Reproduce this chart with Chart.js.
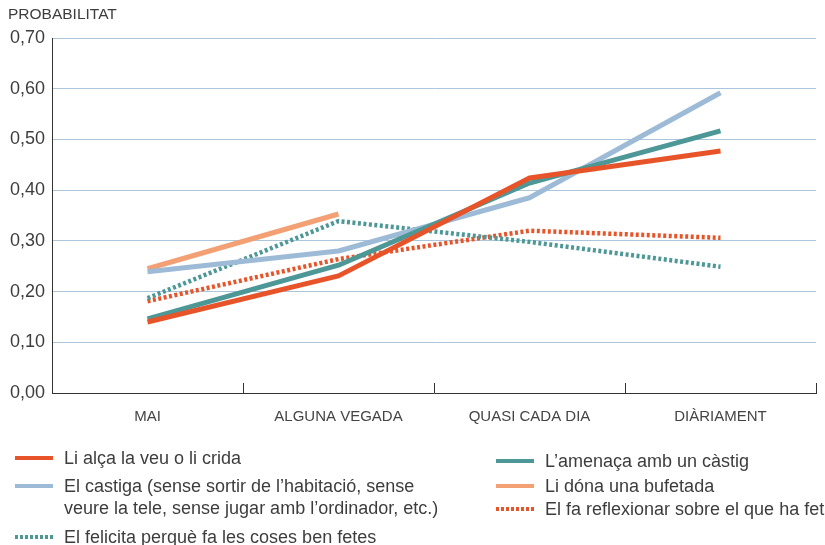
<!DOCTYPE html>
<html>
<head>
<meta charset="utf-8">
<script src="https://cdn.jsdelivr.net/npm/chart.js@4.4.1/dist/chart.umd.min.js"></script>
<style>
  html, body { margin: 0; padding: 0; background: #fff; }
  #wrap { width: 825px; height: 545px; position: relative; }
</style>
</head>
<body>
<div id="wrap"><canvas id="chart"></canvas></div>
<script>
// Categories and y tick labels
const categories = ['MAI', 'ALGUNA VEGADA', 'QUASI CADA DIA', 'DIÀRIAMENT'];
const yTickLabels = ['0,00', '0,10', '0,20', '0,30', '0,40', '0,50', '0,60', '0,70'];

// Series values
const alcaVeu = [0.140, 0.231, 0.424, 0.477];
const amenaca = [0.146, 0.252, 0.414, 0.517];
const castiga = [0.239, 0.280, 0.385, 0.592];
const bufetada = [0.245, 0.353, null, null];
const felicita = [0.187, 0.339, 0.298, 0.249];
const reflexionar = [0.181, 0.264, 0.320, 0.306];

const seriesLabels = [
  'Li alça la veu o li crida',
  'L\u2019amenaça amb un càstig',
  'El castiga (sense sortir de l\u2019habitació, sense\nveure la tele, sense jugar amb l\u2019ordinador, etc.)',
  'Li dóna una bufetada',
  'El felicita perquè fa les coses ben fetes',
  'El fa reflexionar sobre el que ha fet'
];

const RED = '#e8542a';
const TEAL = '#4e9797';
const LIGHTBLUE = '#9dbbd6';
const ORANGE = '#f3a074';
const FONT = '"Liberation Sans", Arial, sans-serif';
const TEXT = '#3d3d3d';

function makeSet(label, data, color, dotted) {
  return {
    label: label,
    data: data,
    borderColor: color,
    backgroundColor: color,
    borderWidth: dotted ? 4.5 : 5,
    borderDash: dotted ? [3, 2.5] : [],
    borderCapStyle: 'butt',
    borderJoinStyle: 'round',
    pointRadius: 0,
    tension: 0,
    fill: false,
    spanGaps: false
  };
}

// Ticks pointing up into the plot at the category boundaries
const boundaryTicks = {
  id: 'boundaryTicks',
  afterDraw(chart) {
    const xs = chart.scales.x;
    const ctx = chart.ctx;
    const bottom = chart.chartArea.bottom;
    const step = xs.getPixelForValue(1) - xs.getPixelForValue(0);
    ctx.save();
    ctx.strokeStyle = '#333';
    ctx.lineWidth = 1;
    for (let i = 0; i < categories.length; i++) {
      const x = Math.round(xs.getPixelForValue(i) + step / 2) + 0.5;
      ctx.beginPath();
      ctx.moveTo(x, bottom - 10);
      ctx.lineTo(x, bottom);
      ctx.stroke();
    }
    // axis title on top
    ctx.fillStyle = TEXT;
    ctx.font = '15.5px ' + FONT;
    ctx.textBaseline = 'middle';
    ctx.textAlign = 'left';
    ctx.fillText('PROBABILITAT', 8, 15);
    ctx.restore();
  }
};

// Two column legend below the axis
const customLegend = {
  id: 'customLegend',
  afterDraw(chart) {
    const ctx = chart.ctx;
    const cols = [{ x: 15, rows: [0, 2, 4] }, { x: 496, rows: [1, 3, 5] }];
    const rowY = [[458, 486, 537], [461, 486, 509]];
    ctx.save();
    ctx.font = '18px ' + FONT;
    ctx.textBaseline = 'middle';
    ctx.textAlign = 'left';
    cols.forEach((col, c) => {
      col.rows.forEach((di, r) => {
        const ds = chart.data.datasets[di];
        const y = rowY[c][r];
        ctx.strokeStyle = ds.borderColor;
        ctx.lineWidth = 4;
        ctx.setLineDash(ds.borderDash.length ? [3, 2] : []);
        ctx.beginPath();
        ctx.moveTo(col.x, y);
        ctx.lineTo(col.x + 38, y);
        ctx.stroke();
        ctx.setLineDash([]);
        ctx.fillStyle = TEXT;
        ds.label.split('\n').forEach((line, k) => {
          ctx.fillText(line, col.x + 49, y + 1 + k * 22);
        });
      });
    });
    ctx.restore();
  }
};

const config = {
  type: 'line',
  data: {
    labels: categories,
    datasets: [
      makeSet(seriesLabels[0], alcaVeu, RED, false),
      makeSet(seriesLabels[1], amenaca, TEAL, false),
      makeSet(seriesLabels[2], castiga, LIGHTBLUE, false),
      makeSet(seriesLabels[3], bufetada, ORANGE, false),
      makeSet(seriesLabels[4], felicita, TEAL, true),
      makeSet(seriesLabels[5], reflexionar, RED, true)
    ]
  },
  options: {
    responsive: false,
    animation: false,
    devicePixelRatio: 1,
    layout: { padding: { top: 38, right: 9, left: 0, bottom: 0 } },
    plugins: {
      legend: { display: false },
      tooltip: { enabled: false }
    },
    scales: {
      x: {
        offset: true,
        grid: { display: false, drawTicks: false },
        border: { display: true, color: '#333', width: 1 },
        ticks: {
          padding: 15,
          color: '#444',
          font: { family: FONT, size: 15 },
          maxRotation: 0
        },
        afterFit(scale) { scale.height = 152; }
      },
      y: {
        min: 0,
        max: 0.7,
        grid: {
          drawTicks: false,
          lineWidth: 1,
          color: (ctx) => ctx.index === 0 ? 'rgba(0,0,0,0)' : '#aac6dd'
        },
        border: { display: true, color: '#333', width: 1 },
        ticks: {
          stepSize: 0.1,
          padding: 7,
          color: TEXT,
          font: { family: FONT, size: 18 },
          callback: (v, i) => yTickLabels[i]
        },
        afterFit(scale) { scale.width = 52; }
      }
    }
  },
  plugins: [boundaryTicks, customLegend]
};

const canvas = document.getElementById('chart');
canvas.width = 825;
canvas.height = 545;
new Chart(canvas.getContext('2d'), config);
</script>
</body>
</html>
